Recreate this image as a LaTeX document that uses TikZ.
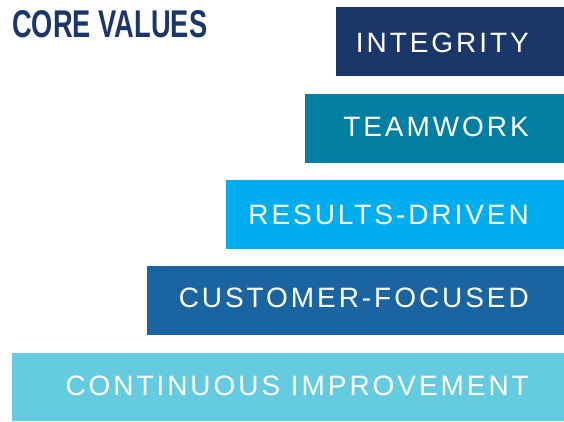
\documentclass[tikz,border=0pt]{standalone}
\usepackage{fontspec}
\setmainfont{Liberation Sans}
\newfontfamily\lblfont[LetterSpace=10.5]{Liberation Sans}
\newfontfamily\ttlfont{Liberation Sans Bold}
\definecolor{cNavy}{HTML}{1B3668}
\definecolor{cTeal}{HTML}{007FA3}
\definecolor{cBright}{HTML}{00AEEF}
\definecolor{cMid}{HTML}{1A64A1}
\definecolor{cLight}{HTML}{64CBE0}
\begin{document}
\begin{tikzpicture}[x=1pt,y=-1pt,
  valbox/.style={rectangle,draw=none,inner sep=0pt,anchor=north east},
  vallbl/.style={anchor=base east,inner sep=0pt,text=white,font=\fontsize{28}{30}\selectfont\lblfont}]
\useasboundingbox[fill=white] (0,0) rectangle (564,421);
\node[anchor=north west,inner sep=0pt,text=cNavy] (title) at (12,10)
  {\resizebox{195pt}{27pt}{\ttlfont CORE VALUES}};
\node[valbox,fill=cNavy,minimum width=228pt,minimum height=69pt] (b1) at (564,7) {};
\node[valbox,fill=cTeal,minimum width=259pt,minimum height=69pt] (b2) at (564,94) {};
\node[valbox,fill=cBright,minimum width=338pt,minimum height=69pt] (b3) at (564,180) {};
\node[valbox,fill=cMid,minimum width=417pt,minimum height=69pt] (b4) at (564,266) {};
\node[valbox,fill=cLight,minimum width=552pt,minimum height=68pt] (b5) at (564,353) {};
\node[vallbl] (t1) at (529,52.5) {INTEGRITY};
\node[vallbl] (t2) at (529,136.5) {TEAMWORK};
\node[vallbl] (t3) at (529,224.5) {RESULTS-DRIVEN};
\node[vallbl] (t4) at (529,307) {CUSTOMER-FOCUSED};
\node[vallbl] (t5) at (529,395) {CONTINUOUS IMPROVEMENT};
\end{tikzpicture}
\end{document}
